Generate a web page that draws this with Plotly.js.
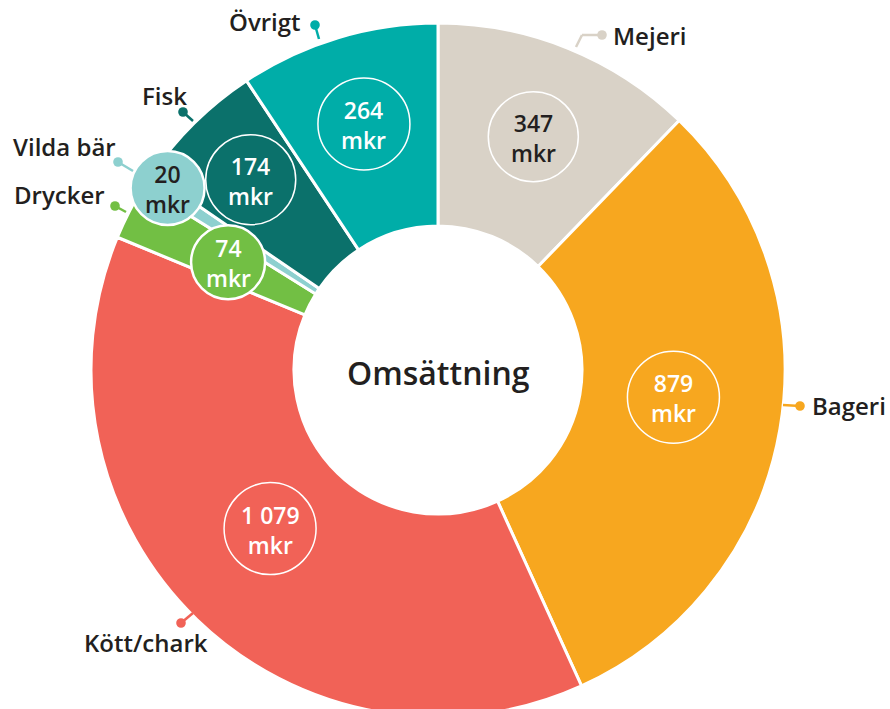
<!DOCTYPE html>
<html><head><meta charset="utf-8">
<script src="https://cdn.plot.ly/plotly-3.0.1.min.js"></script>
<style>html,body{margin:0;padding:0;overflow:hidden;background:#fff}#chart{width:890px;height:740px}</style>
</head><body><div id="chart"></div>
<script>
// ---- data ----
const categories = ['Mejeri', 'Bageri', 'Kött/chark', 'Drycker', 'Vilda bär', 'Fisk', 'Övrigt'];
const values = [347, 879, 1079, 74, 20, 174, 264];
const valueLabels = ['347', '879', '1 079', '74', '20', '174', '264'];
const unit = 'mkr';
const centerTitle = 'Omsättning';

// ---- style ----
const colors = ['#d9d2c7', '#f7a71f', '#f16257', '#72bf44', '#8dd0cf', '#0b716b', '#00ada8'];
const valueTextColors = ['#231f20', '#ffffff', '#ffffff', '#ffffff', '#231f20', '#ffffff', '#ffffff'];
const bubbleFilled = [false, false, false, true, true, false, false];
const bubbleRadius = [45, 46, 46, 37, 37, 45, 46];
const bubbleDist = [252, 237, 231, 236, 326, 267, 257];
const bubbleAngleShift = [0.2, -3.2, 2.6, 0, 0.8, 0, 0];
// callout label geometry (pixels): label anchor, dot, line end, optional elbow
const callouts = [
  {tx: 611, ty: 36, anchor: 'left', dot: [602, 35], pts: [[582, 35], [576, 47]]},
  {tx: 810, ty: 406, anchor: 'left', dot: [800, 406], pts: [[783, 405]]},
  {tx: 146, ty: 642, anchor: 'center', dot: [181, 623], pts: [[193, 613]]},
  {tx: 107, ty: 194, anchor: 'right', dot: [115, 206], pts: [[126, 212]]},
  {tx: 118, ty: 147, anchor: 'right', dot: [118, 162], pts: [[133, 171]]},
  {tx: 189, ty: 95, anchor: 'right', dot: [183, 112], pts: [[193, 121]]},
  {tx: 303, ty: 21, anchor: 'right', dot: [315, 25], pts: [[319, 39]]}
];

const W = 890, H = 740, cx = 438, cy = 370, R = 347, holeFrac = 0.415;
const FONT = '"Open Sans", "DejaVu Sans", sans-serif';
const TXT = '#231f20';
const px = x => x / W, py = y => 1 - y / H;

const total = values.reduce((a, b) => a + b, 0);
const shapes = [], annotations = [];
let cum = 0;
values.forEach((v, i) => {
  const mid = (cum + v / 2) / total * 360 + bubbleAngleShift[i];
  cum += v;
  const a = mid * Math.PI / 180;
  const bx = cx + bubbleDist[i] * Math.sin(a), by = cy - bubbleDist[i] * Math.cos(a);
  const r = bubbleRadius[i];
  shapes.push({type: 'circle', xref: 'paper', yref: 'paper',
    x0: px(bx - r), x1: px(bx + r), y0: py(by + r), y1: py(by - r),
    fillcolor: bubbleFilled[i] ? colors[i] : 'rgba(0,0,0,0)',
    line: {color: '#ffffff', width: bubbleFilled[i] ? 2.5 : 1.5}, layer: 'above'});
  annotations.push({xref: 'paper', yref: 'paper', x: px(bx), y: py(by + 1), showarrow: false,
    xanchor: 'center', yanchor: 'middle',
    text: valueLabels[i] + '<br>' + unit, align: 'center',
    font: {family: FONT, size: 23, weight: 600, color: valueTextColors[i]}});
  // callout
  const c = callouts[i];
  let prev = c.dot;
  c.pts.forEach(p => {
    shapes.push({type: 'line', xref: 'paper', yref: 'paper', x0: px(prev[0]), y0: py(prev[1]),
      x1: px(p[0]), y1: py(p[1]), line: {color: colors[i], width: 2.5}});
    prev = p;
  });
  const dr = 4.8;
  shapes.push({type: 'circle', xref: 'paper', yref: 'paper',
    x0: px(c.dot[0] - dr), x1: px(c.dot[0] + dr), y0: py(c.dot[1] + dr), y1: py(c.dot[1] - dr),
    fillcolor: colors[i], line: {width: 0}});
  annotations.push({xref: 'paper', yref: 'paper', x: px(c.tx), y: py(c.ty), showarrow: false,
    xanchor: c.anchor, yanchor: 'middle', text: categories[i],
    font: {family: FONT, size: 24, weight: 600, color: TXT}});
});

annotations.push({xref: 'paper', yref: 'paper', x: px(438), y: py(372), showarrow: false,
  xanchor: 'center', yanchor: 'middle',
  text: centerTitle, font: {family: FONT, size: 32, weight: 600, color: TXT}});

const trace = {
  type: 'pie', labels: categories, values: values, sort: false, direction: 'clockwise', rotation: 0,
  hole: holeFrac, textinfo: 'none', hoverinfo: 'label+value',
  marker: {colors: colors, line: {color: '#ffffff', width: 3}},
  domain: {x: [(cx - R) / W, (cx + R) / W], y: [1 - (cy + R) / H, 1 - (cy - R) / H]},
  showlegend: false
};

Plotly.newPlot('chart', [trace], {
  width: W, height: H, margin: {l: 0, r: 0, t: 0, b: 0},
  paper_bgcolor: '#ffffff', plot_bgcolor: '#ffffff', showlegend: false,
  shapes: shapes, annotations: annotations, font: {family: FONT}
}, {displayModeBar: false, staticPlot: true});
</script></body></html>
